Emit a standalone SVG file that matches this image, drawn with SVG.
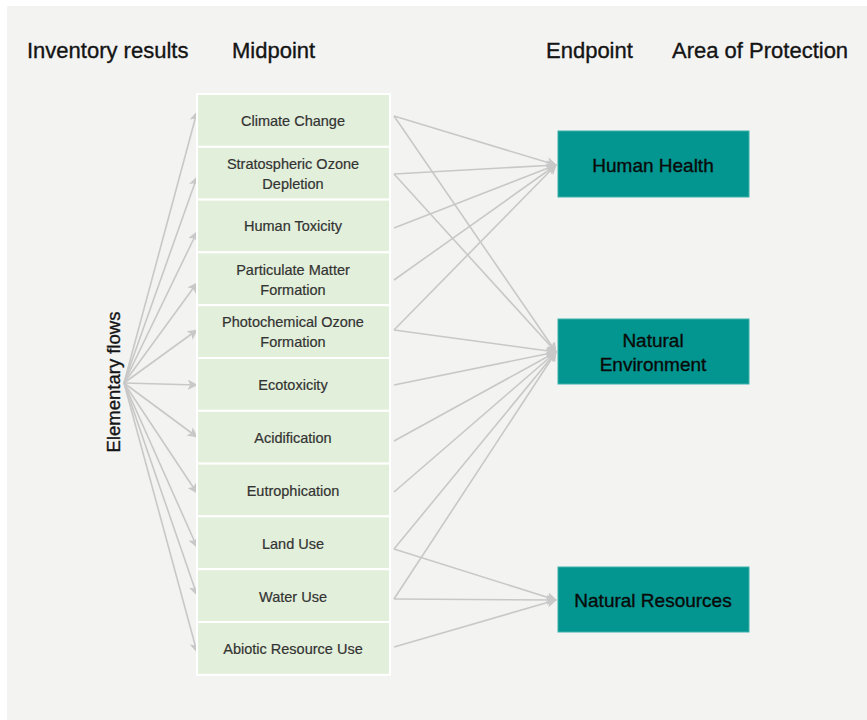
<svg xmlns="http://www.w3.org/2000/svg" width="867" height="720" viewBox="0 0 867 720">
<style>
.title{font-family:"Liberation Sans",Arial,sans-serif;font-size:22px;fill:#141414;stroke:#141414;stroke-width:0.35}
.mid rect{fill:#e2efda;stroke:#ffffff;stroke-width:2}
.mid text{font-family:"Liberation Sans",Arial,sans-serif;font-size:14.5px;fill:#333333;stroke:#333333;stroke-width:0.2;text-anchor:middle}
.end rect{fill:#03958f;stroke:#3fb0aa;stroke-width:1}
.end text{font-family:"Liberation Sans",Arial,sans-serif;font-size:19px;fill:#0a0a0a;stroke:#0a0a0a;stroke-width:0.35;text-anchor:middle}
.conn line{stroke:#c8c8c8;stroke-width:1.6;fill:none;marker-end:url(#arr)}
.lbl{font-family:"Liberation Sans",Arial,sans-serif;font-size:18.5px;fill:#141414;stroke:#141414;stroke-width:0.35}
</style>
<defs>
<marker id="arr" viewBox="0 0 10 10" refX="9" refY="5" markerWidth="6.5" markerHeight="6.5" orient="auto" markerUnits="strokeWidth">
<path d="M0,0 L10,5 L0,10 L2.5,5 z" fill="#c8c8c8"/>
</marker>
</defs>
<rect x="0" y="0" width="867" height="720" fill="#ffffff"/>
<rect x="7" y="6" width="860" height="714" fill="#f3f3f2"/>

<g id="titles">
<text class="title" x="27" y="58">Inventory results</text>
<text class="title" x="232" y="58">Midpoint</text>
<text class="title" x="546" y="58">Endpoint</text>
<text class="title" x="672" y="58">Area of Protection</text>
</g>

<g id="elementary-flows">
<text class="lbl" transform="translate(120,382) rotate(-90)" text-anchor="middle">Elementary flows</text>
</g>

<g id="connectors" class="conn">
<line x1="124" y1="383" x2="197" y2="112"/>
<line x1="124" y1="383" x2="197" y2="177"/>
<line x1="124" y1="383" x2="197" y2="232"/>
<line x1="124" y1="383" x2="197" y2="283"/>
<line x1="124" y1="383" x2="197" y2="330"/>
<line x1="124" y1="383" x2="197" y2="385"/>
<line x1="124" y1="383" x2="197" y2="437"/>
<line x1="124" y1="383" x2="197" y2="493"/>
<line x1="124" y1="383" x2="197" y2="547"/>
<line x1="124" y1="383" x2="197" y2="595"/>
<line x1="124" y1="383" x2="197" y2="652"/>

<line x1="394" y1="116" x2="556" y2="165"/>
<line x1="394" y1="116" x2="556" y2="352"/>
<line x1="394" y1="174" x2="556" y2="165"/>
<line x1="394" y1="174" x2="556" y2="352"/>
<line x1="394" y1="228" x2="556" y2="165"/>
<line x1="394" y1="280" x2="556" y2="165"/>
<line x1="394" y1="330" x2="556" y2="165"/>
<line x1="394" y1="330" x2="556" y2="352"/>
<line x1="394" y1="385" x2="556" y2="352"/>
<line x1="394" y1="441" x2="556" y2="352"/>
<line x1="394" y1="492" x2="556" y2="352"/>
<line x1="394" y1="549" x2="556" y2="352"/>
<line x1="394" y1="549" x2="556" y2="600"/>
<line x1="394" y1="599" x2="556" y2="352"/>
<line x1="394" y1="599" x2="556" y2="600"/>
<line x1="394" y1="647" x2="556" y2="600"/>
</g>

<g id="mid-climate-change" class="mid"><rect x="197" y="94" width="193" height="52.8"/><text x="293" y="126">Climate Change</text></g>
<g id="mid-stratospheric-ozone" class="mid"><rect x="197" y="146.8" width="193" height="52.8"/><text x="293" y="169">Stratospheric Ozone</text><text x="293" y="189">Depletion</text></g>
<g id="mid-human-toxicity" class="mid"><rect x="197" y="199.6" width="193" height="52.8"/><text x="293" y="231">Human Toxicity</text></g>
<g id="mid-particulate-matter" class="mid"><rect x="197" y="252.4" width="193" height="52.8"/><text x="293" y="274.5">Particulate Matter</text><text x="293" y="294.5">Formation</text></g>
<g id="mid-photochemical-ozone" class="mid"><rect x="197" y="305.2" width="193" height="52.8"/><text x="293" y="327">Photochemical Ozone</text><text x="293" y="347">Formation</text></g>
<g id="mid-ecotoxicity" class="mid"><rect x="197" y="358" width="193" height="52.8"/><text x="293" y="390">Ecotoxicity</text></g>
<g id="mid-acidification" class="mid"><rect x="197" y="410.8" width="193" height="52.8"/><text x="293" y="443">Acidification</text></g>
<g id="mid-eutrophication" class="mid"><rect x="197" y="463.6" width="193" height="52.8"/><text x="293" y="496">Eutrophication</text></g>
<g id="mid-land-use" class="mid"><rect x="197" y="516.4" width="193" height="52.8"/><text x="293" y="549">Land Use</text></g>
<g id="mid-water-use" class="mid"><rect x="197" y="569.2" width="193" height="52.8"/><text x="293" y="602">Water Use</text></g>
<g id="mid-abiotic-resource-use" class="mid"><rect x="197" y="622" width="193" height="52.8"/><text x="293" y="654">Abiotic Resource Use</text></g>

<g id="end-human-health" class="end"><rect x="558" y="131" width="191" height="66"/><text x="653" y="172">Human Health</text></g>
<g id="end-natural-environment" class="end"><rect x="558" y="319" width="191" height="65"/><text x="653" y="347">Natural</text><text x="653" y="371">Environment</text></g>
<g id="end-natural-resources" class="end"><rect x="558" y="567" width="191" height="65"/><text x="653" y="607">Natural Resources</text></g>
</svg>
